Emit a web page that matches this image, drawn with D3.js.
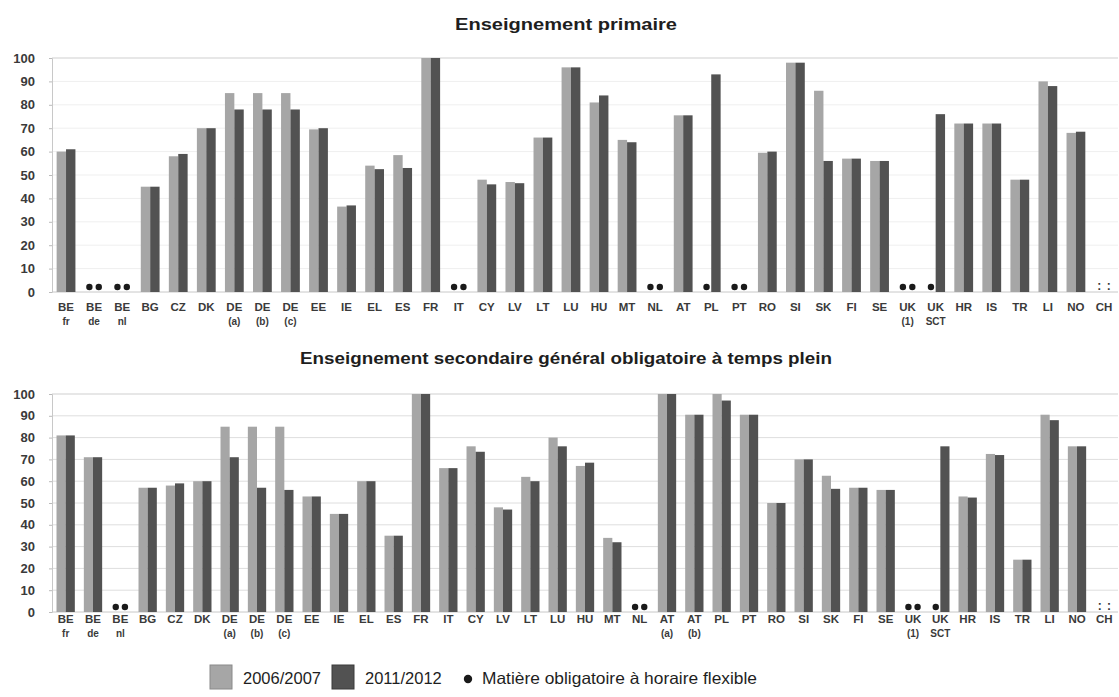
<!DOCTYPE html>
<html>
<head>
<meta charset="utf-8">
<script src="https://cdn.jsdelivr.net/npm/d3@7/dist/d3.min.js"></script>
<style>
  html, body { margin: 0; padding: 0; background: #ffffff; }
  svg { display: block; font-family: "Liberation Sans", Arial, sans-serif; }
</style>
</head>
<body>
<svg id="chart" width="1119" height="697"></svg>
<script>
// ---------- DATA ----------
const primaryCodes = ["BE","BE","BE","BG","CZ","DK","DE","DE","DE","EE","IE","EL","ES","FR","IT","CY","LV","LT","LU","HU","MT","NL","AT","PL","PT","RO","SI","SK","FI","SE","UK","UK","HR","IS","TR","LI","NO","CH"];
const primarySub   = ["fr","de","nl","","","","(a)","(b)","(c)","","","","","","","","","","","","","","","","","","","","","","(1)","SCT","","","","","",""];
// null = matière obligatoire à horaire flexible (dot), ":" = not available
const primary2006 = [60,null,null,45,58,70,85,85,85,69.5,36.5,54,58.5,100,null,48,47,66,96,81,65,null,75.5,null,null,59.5,98,86,57,56,null,null,72,72,48,90,68,":"];
const primary2011 = [61,null,null,45,59,70,78,78,78,70,37,52.5,53,100,null,46,46.5,66,96,84,64,null,75.5,93,null,60,98,56,57,56,null,76,72,72,48,88,68.5,":"];

const secondaryCodes = ["BE","BE","BE","BG","CZ","DK","DE","DE","DE","EE","IE","EL","ES","FR","IT","CY","LV","LT","LU","HU","MT","NL","AT","AT","PL","PT","RO","SI","SK","FI","SE","UK","UK","HR","IS","TR","LI","NO","CH"];
const secondarySub   = ["fr","de","nl","","","","(a)","(b)","(c)","","","","","","","","","","","","","","(a)","(b)","","","","","","","","(1)","SCT","","","","","",""];
const secondary2006 = [81,71,null,57,58,60,85,85,85,53,45,60,35,100,66,76,48,62,80,67,34,null,100,90.5,100,90.5,50,70,62.5,57,56,null,null,53,72.5,24,90.5,76,":"];
const secondary2011 = [81,71,null,57,59,60,71,57,56,53,45,60,35,100,66,73.5,47,60,76,68.5,32,null,100,90.5,97,90.5,50,70,56.5,57,56,null,76,52.5,72,24,88,76,":"];

const yTicks = [0,10,20,30,40,50,60,70,80,90,100];
const seriesNames = ["2006/2007","2011/2012"];
const flexLabel = "Matière obligatoire à horaire flexible";
const titles = ["Enseignement primaire","Enseignement secondaire général obligatoire à temps plein"];

// ---------- DRAW ----------
const svg = d3.select("#chart");
const colors = ["#a6a6a6", "#525252"];

function drawPanel(cfg) {
  const { codes, subs, s1, s2, top, bottom, title, titleY, titleW, gridColor, labelY } = cfg;
  const left = 52, right = 1118;
  const idx = codes.map((d, i) => i);
  const x = d3.scaleBand().domain(idx).range([left, right]).paddingInner(0).paddingOuter(0);
  const y = d3.scaleLinear().domain([0, 100]).range([bottom, top]);
  const g = svg.append("g");

  // gridlines
  g.append("g").selectAll("line").data(yTicks.filter(t => t > 0)).join("line")
    .attr("x1", left).attr("x2", right)
    .attr("y1", d => y(d)).attr("y2", d => y(d))
    .attr("stroke", d => d === 100 ? "#cfcfcf" : gridColor).attr("stroke-width", 1);

  // y axis
  const yAxis = d3.axisLeft(y).tickValues(yTicks).tickSize(3).tickPadding(14);
  const ya = g.append("g").attr("transform", `translate(${left},0)`).call(yAxis);
  ya.select(".domain").attr("stroke", "#c8c8c8");
  ya.selectAll(".tick line").attr("stroke", "#bbbbbb");
  ya.selectAll(".tick text").attr("font-size", 13).attr("font-weight", "bold").attr("fill", "#3a3a3a")
    .attr("font-family", "'Liberation Sans', Arial, sans-serif");

  // baseline
  g.append("line").attr("x1", left).attr("x2", right).attr("y1", y(0)).attr("y2", y(0))
    .attr("stroke", "#c8c8c8");

  const bw = x.bandwidth() * 0.335;
  const series = [s1, s2];
  series.forEach((vals, si) => {
    const xOff = si === 0 ? x.bandwidth() / 2 - bw : x.bandwidth() / 2;
    g.append("g").selectAll("rect").data(idx.filter(i => typeof vals[i] === "number")).join("rect")
      .attr("x", i => x(i) + xOff)
      .attr("width", bw)
      .attr("y", i => y(vals[i]))
      .attr("height", i => y(0) - y(vals[i]))
      .attr("fill", colors[si]);
    g.append("g").selectAll("circle").data(idx.filter(i => vals[i] === null)).join("circle")
      .attr("cx", i => x(i) + xOff + bw / 2)
      .attr("cy", y(0) - 5)
      .attr("r", 3.2)
      .attr("fill", "#1a1a1a");
    g.append("g").selectAll("text").data(idx.filter(i => vals[i] === ":")).join("text")
      .attr("x", i => x(i) + xOff + bw / 2)
      .attr("y", y(0) - 2)
      .attr("text-anchor", "middle")
      .attr("font-size", 12).attr("font-weight", "bold").attr("fill", "#333")
      .text(":");
  });

  // category labels
  const lab = g.append("g");
  lab.selectAll("text.code").data(idx).join("text").attr("class", "code")
    .attr("x", i => x(i) + x.bandwidth() / 2)
    .attr("y", labelY)
    .attr("text-anchor", "middle")
    .attr("font-size", 11.5).attr("font-weight", "bold").attr("fill", "#3a3a3a")
    .text(i => codes[i]);
  lab.selectAll("text.sub").data(idx.filter(i => subs[i])).join("text").attr("class", "sub")
    .attr("x", i => x(i) + x.bandwidth() / 2)
    .attr("y", labelY + 14)
    .attr("text-anchor", "middle")
    .attr("font-size", 10).attr("font-weight", "bold").attr("fill", "#3a3a3a")
    .text(i => subs[i]);

  // title
  g.append("text").attr("x", 566).attr("y", titleY).attr("text-anchor", "middle")
    .attr("font-size", 17).attr("font-weight", "bold").attr("fill", "#1e1e1e")
    .attr("textLength", titleW).attr("lengthAdjust", "spacingAndGlyphs")
    .text(title);
}

drawPanel({ codes: primaryCodes, subs: primarySub, s1: primary2006, s2: primary2011,
  top: 58, bottom: 292, title: titles[0], titleY: 30, titleW: 222, gridColor: "#efefef", labelY: 311 });
drawPanel({ codes: secondaryCodes, subs: secondarySub, s1: secondary2006, s2: secondary2011,
  top: 394, bottom: 612, title: titles[1], titleY: 364, titleW: 532, gridColor: "#dedede", labelY: 623 });

// legend
const leg = svg.append("g");
const legItems = [{ x: 210, label: seriesNames[0], c: colors[0], s: "#8a8a8a" },
                  { x: 332, label: seriesNames[1], c: colors[1], s: "#3a3a3a" }];
legItems.forEach(d => {
  leg.append("rect").attr("x", d.x).attr("y", 665).attr("width", 22).attr("height", 24)
    .attr("fill", d.c).attr("stroke", d.s).attr("stroke-width", 1);
  leg.append("text").attr("x", d.x + 33).attr("y", 684).attr("font-size", 16.5).attr("fill", "#1e1e1e")
    .text(d.label);
});
leg.append("circle").attr("cx", 468).attr("cy", 679).attr("r", 4.2).attr("fill", "#1a1a1a");
leg.append("text").attr("x", 482).attr("y", 684).attr("font-size", 16.5).attr("fill", "#1e1e1e")
  .attr("textLength", 275).attr("lengthAdjust", "spacingAndGlyphs")
  .text(flexLabel);
</script>
</body>
</html>
